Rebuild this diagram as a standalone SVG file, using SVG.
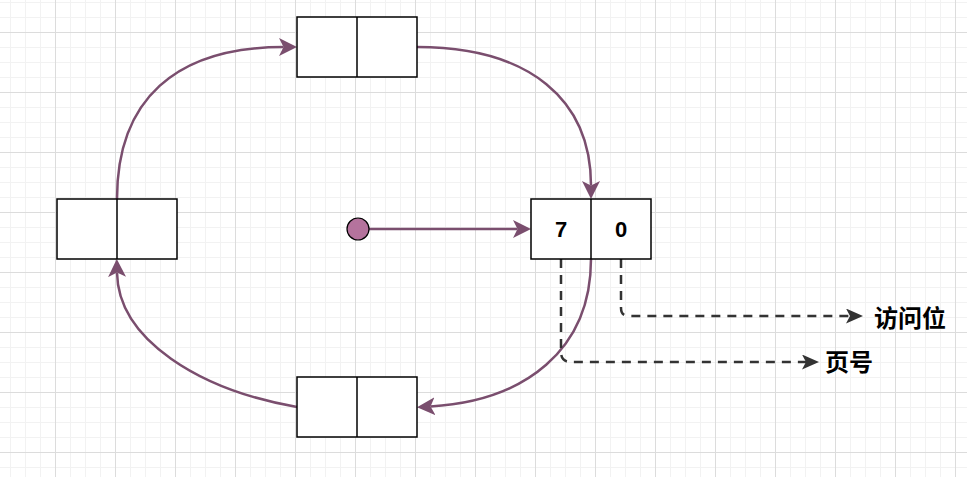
<svg xmlns="http://www.w3.org/2000/svg" width="967" height="477" viewBox="0 0 967 477">
  <style>
    .box { fill: #ffffff; stroke: #000000; stroke-width: 1.5; }
    .div { stroke: #000000; stroke-width: 1.5; }
    .link { fill: none; stroke: #7a4e6e; stroke-width: 2.5; marker-end: url(#arrP); }
    .dash { fill: none; stroke: #333333; stroke-width: 2.5; stroke-dasharray: 9 7; marker-end: url(#arrD); }
    .num { font-family: "Liberation Sans", Arial, sans-serif; font-weight: bold; font-size: 22px; fill: #000; text-anchor: middle; }
    .lbl { font-family: "Noto Sans CJK SC", "Noto Sans", sans-serif; font-weight: bold; font-size: 24px; fill: #000; }
  </style>
  <defs>
    <pattern id="grid" x="55" y="32" width="60" height="60" patternUnits="userSpaceOnUse">
      <path d="M15.5 0V60M30.5 0V60M45.5 0V60M0 15.5H60M0 30.5H60M0 45.5H60" stroke="#f2f2f2" stroke-width="1"/>
      <path d="M0.5 0V60M0 0.5H60" stroke="#dcdcdc" stroke-width="1"/>
    </pattern>
    <marker id="arrP" markerUnits="userSpaceOnUse" markerWidth="18" markerHeight="18" refX="4.5" refY="9" orient="auto" viewBox="0 0 18 18">
      <path d="M0,0 L18,9 L0,18 L4.5,9 Z" fill="#7a4e6e"/>
    </marker>
    <marker id="arrD" markerUnits="userSpaceOnUse" markerWidth="17" markerHeight="15" refX="4" refY="7.5" orient="auto" viewBox="0 0 17 15">
      <path d="M0,0 L17,7.5 L0,15 L4,7.5 Z" fill="#333333"/>
    </marker>
  </defs>
  <rect x="0" y="0" width="967" height="477" fill="#ffffff"/>
  <rect x="0" y="0" width="967" height="477" fill="url(#grid)"/>

  <g id="connectors">
    <path class="link" d="M117 199 C117 100 175 47 283.5 47"/>
    <path class="link" d="M417 47 C530 47 591 100 591 185.5"/>
    <path class="link" d="M591 259 C591 350 525 401 430.5 406.5"/>
    <path class="link" d="M297 407 C200 390 118 340 117 272.5"/>
    <path class="link" d="M369 229 L517.5 229"/>
    <path class="dash" d="M561 259 L561 352 Q561 362 571 362 L806 362"/>
    <path class="dash" d="M621 259 L621 308 Q621 316 629 316 L850 316"/>
  </g>

  <g id="node-top">
    <rect class="box" x="297" y="17" width="120" height="60"/>
    <line class="div" x1="357" y1="17" x2="357" y2="77"/>
  </g>
  <g id="node-left">
    <rect class="box" x="57" y="199" width="120" height="60"/>
    <line class="div" x1="117" y1="199" x2="117" y2="259"/>
  </g>
  <g id="node-bottom">
    <rect class="box" x="297" y="377" width="120" height="60"/>
    <line class="div" x1="357" y1="377" x2="357" y2="437"/>
  </g>
  <g id="node-right">
    <rect class="box" x="531" y="199" width="120" height="60"/>
    <line class="div" x1="591" y1="199" x2="591" y2="259"/>
    <text class="num" x="561" y="237">7</text>
    <text class="num" x="621" y="237">0</text>
  </g>
  <g id="node-pointer">
    <circle cx="358" cy="229" r="11" fill="#b5739d" stroke="#000000" stroke-width="1.2"/>
  </g>
  <g id="label-page">
    <text class="lbl" x="825" y="371">页号</text>
  </g>
  <g id="label-access">
    <text class="lbl" x="874" y="327">访问位</text>
  </g>
</svg>
